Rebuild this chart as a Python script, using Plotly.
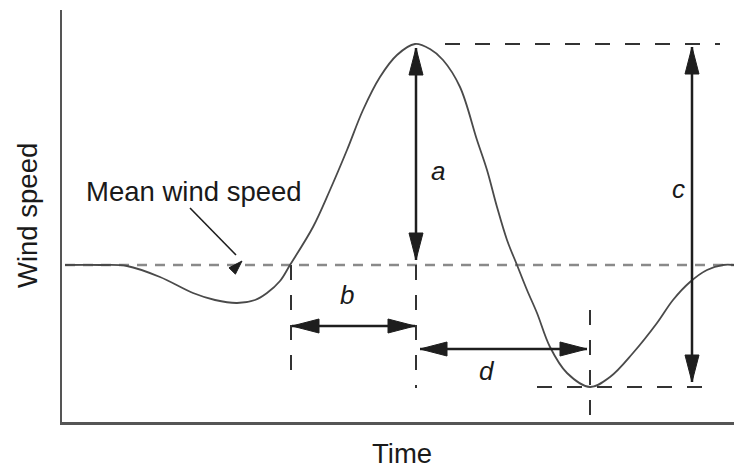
import plotly.graph_objects as go

# ---------------- data (arbitrary units) ----------------
time = [3, 38, 65, 98, 131, 153, 175, 193, 205, 218, 228, 251, 268, 285, 301, 318,
        335, 353, 368, 381, 398, 415, 425, 435, 445, 455, 465, 475, 488, 505, 528,
        548, 571, 595, 611, 628, 645, 661, 672]
speed = [157, 157, 156, 145, 129, 122, 119, 122, 129, 141, 157, 195, 232, 272, 312,
         345, 367, 378, 373, 362, 335, 282, 252, 215, 182, 157, 132, 109, 75, 49, 35,
         45, 69, 99, 122, 140, 152, 157, 157]

mean_speed = 157
peak_speed = 378
min_speed = 35
t_cross = 229      # gust crosses mean on the way up
t_peak = 354       # time of maximum
t_min = 528        # time of minimum

x_range = [0, 672]
y_range = [0, 412]

# ---------------- layout / style ----------------
W, H = 734, 470
ML, MR, MT, MB = 62, 0, 10, 48
pw, ph = W - ML - MR, H - MT - MB
sx = (x_range[1] - x_range[0]) / pw   # data units per px
sy = (y_range[1] - y_range[0]) / ph

FONT = "Liberation Sans, Arial, sans-serif"
curve_col = "#4a4a4a"
mean_col = "#8a8a8a"
dash_col = "#333333"
arrow_col = "#1e1e1e"

fig = go.Figure()

# mean wind speed dashed line
fig.add_trace(go.Scatter(x=[time[0], x_range[1]], y=[mean_speed, mean_speed], mode="lines",
                         line=dict(color=mean_col, width=2.5, dash="10px,8px"),
                         hoverinfo="skip", showlegend=False))

# dark dashed reference lines
b_level = 96
d_level = 73
c_x = 630
dash_lines = [
    ([t_peak + 29, 658], [peak_speed, peak_speed]),
    ([475, 651], [min_speed, min_speed]),
    ([t_cross, t_cross], [mean_speed, 42]),
    ([t_peak, t_peak], [mean_speed, 34]),
    ([t_min, t_min], [112, 7]),
]
for xs, ys in dash_lines:
    fig.add_trace(go.Scatter(x=xs, y=ys, mode="lines",
                             line=dict(color=dash_col, width=2, dash="15px,15px"),
                             hoverinfo="skip", showlegend=False))

# gust curve
fig.add_trace(go.Scatter(x=time, y=speed, mode="lines",
                         line=dict(color=curve_col, width=1.8, shape="spline", smoothing=1.0),
                         hoverinfo="skip", showlegend=False))

shapes = []


def head(xt, yt, dx, dy, length=27, half=7):
    """filled triangular arrow head with tip at (xt, yt) pointing in px direction (dx, dy)"""
    n = (dx ** 2 + dy ** 2) ** 0.5
    ux, uy = dx / n, dy / n
    bx, by = -ux * length, -uy * length
    px_, py_ = -uy * half, ux * half
    p2 = (xt + (bx + px_) * sx, yt + (by + py_) * sy)
    p3 = (xt + (bx - px_) * sx, yt + (by - py_) * sy)
    path = f"M{xt},{yt} L{p2[0]},{p2[1]} L{p3[0]},{p3[1]} Z"
    shapes.append(dict(type="path", path=path, xref="x", yref="y",
                       fillcolor=arrow_col, line=dict(color=arrow_col, width=1)))


def dbl_arrow(x0, y0, x1, y1, width=2.5):
    shapes.append(dict(type="line", x0=x0, y0=y0, x1=x1, y1=y1, xref="x", yref="y",
                       line=dict(color=arrow_col, width=width)))
    dxp, dyp = (x1 - x0) / sx, (y1 - y0) / sy
    head(x1, y1, dxp, dyp)
    head(x0, y0, -dxp, -dyp)


# a: mean -> peak
dbl_arrow(t_peak, mean_speed + 5, t_peak, peak_speed - 4)
# b: crossing -> peak time
dbl_arrow(t_cross + 1, b_level, t_peak - 1, b_level)
# c: min -> peak
dbl_arrow(c_x, min_speed + 5, c_x, peak_speed - 3)
# d: peak time -> min time
dbl_arrow(t_peak + 4, d_level, t_min - 3, d_level)

# pointer arrow for mean wind speed
shapes.append(dict(type="line", x0=128, y0=214, x1=174, y1=167, xref="x", yref="y",
                   line=dict(color=arrow_col, width=1.6)))
head(180, 161, 52, 53, length=14, half=4.5)

fig.update_layout(shapes=shapes)


def px_x(v):
    return (v - x_range[0]) / (x_range[1] - x_range[0])


def px_y(v):
    return (v - y_range[0]) / (y_range[1] - y_range[0])


# text
ann = [
    dict(x=132, y=231, text="Mean wind speed", font=dict(size=27.5)),
    dict(x=376, y=251, text="<i>a</i>", font=dict(size=26)),
    dict(x=285, y=127, text="<i>b</i>", font=dict(size=26)),
    dict(x=616, y=233, text="<i>c</i>", font=dict(size=26)),
    dict(x=425, y=51, text="<i>d</i>", font=dict(size=26)),
    dict(x=-35, y=206, text="Wind speed", font=dict(size=27.5), textangle=-90),
    dict(x=340, y=-31, text="Time", font=dict(size=27.5)),
]
for a in ann:
    a.update(xref="paper", yref="paper", x=px_x(a["x"]), y=px_y(a["y"]),
             showarrow=False, xanchor="center", yanchor="middle")
    a["font"].update(family=FONT, color="#1a1a1a")
fig.update_layout(annotations=ann)

axis_common = dict(showline=True, linecolor="#555555", linewidth=2.5, showgrid=False,
                   zeroline=False, showticklabels=False, ticks="", fixedrange=True)
fig.update_xaxes(range=x_range, **axis_common)
fig.update_yaxes(range=y_range, **axis_common)

fig.update_layout(width=W, height=H, margin=dict(l=ML, r=MR, t=MT, b=MB),
                  plot_bgcolor="white", paper_bgcolor="white", showlegend=False)

fig.write_html("out.html",
               config={"displayModeBar": False, "staticPlot": True},
               post_script="document.body.style.margin='0';"
                           "document.body.style.overflow='hidden';"
                           "document.documentElement.style.overflow='hidden';")
